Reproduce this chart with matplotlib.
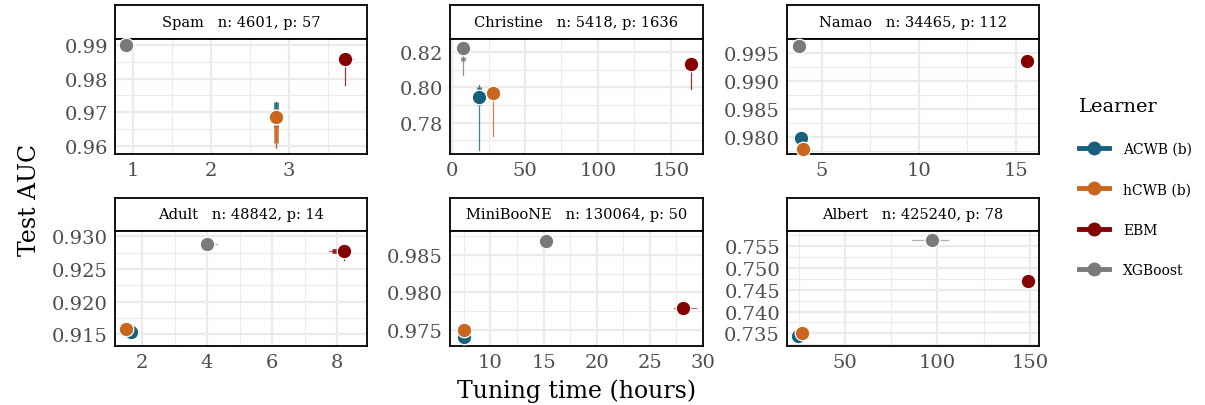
import matplotlib
matplotlib.use("Agg")
import matplotlib.pyplot as plt
from matplotlib.lines import Line2D
import numpy as np

plt.rcParams["font.family"] = ["DejaVu Serif"]

# learners and colours
learners = ["ACWB (b)", "hCWB (b)", "EBM", "XGBoost"]
colors = ["#17607D", "#C8661F", "#850000", "#7A7A7A"]

# datasets (facet order)
datasets = ["Spam", "Christine", "Namao", "Adult", "MiniBooNE", "Albert"]
dims = ["n: 4601, p: 57", "n: 5418, p: 1636", "n: 34465, p: 112",
        "n: 48842, p: 14", "n: 130064, p: 50", "n: 425240, p: 78"]

# median tuning time (hours) per learner: ACWB, hCWB, EBM, XGBoost
time_med = {
    "Spam": [2.83, 2.84, 3.72, 0.91],
    "Christine": [18.5, 28.0, 164.0, 7.5],
    "Namao": [3.9, 4.0, 15.6, 3.8],
    "Adult": [1.65, 1.5, 8.2, 4.0],
    "MiniBooNE": [7.5, 7.5, 28.1, 15.2],
    "Albert": [24.5, 26.5, 149.0, 97.0],
}
# time spread: min, q1, q3, max
time_rng = {
    "Spam": [None, None, (3.70, 3.70, 3.74, 3.82), None],
    "Christine": [None, None, None, None],
    "Namao": [None, None, None, None],
    "Adult": [None, None, (7.75, 7.85, 8.0, 8.4), (4.0, 4.0, 4.0, 4.3)],
    "MiniBooNE": [None, None, (27.3, 27.9, 28.2, 29.3), None],
    "Albert": [None, None, None, (86.0, 97.0, 97.0, 106.0)],
}

# median test AUC per learner
auc_med = {
    "Spam": [0.9685, 0.9686, 0.9860, 0.9900],
    "Christine": [0.7945, 0.7970, 0.8130, 0.8225],
    "Namao": [0.9798, 0.9779, 0.9936, 0.9963],
    "Adult": [0.9153, 0.9158, 0.9277, 0.9288],
    "MiniBooNE": [0.9740, 0.9749, 0.9779, 0.9869],
    "Albert": [0.7345, 0.7350, 0.7471, 0.7564],
}
# AUC spread: min, q1, q3, max
auc_rng = {
    "Spam": [(0.9598, 0.9655, 0.9730, 0.9732), (0.9595, 0.9610, 0.9670, 0.9690),
             (0.9782, 0.9840, 0.9860, 0.9862), None],
    "Christine": [(0.7645, 0.7900, 0.8000, 0.8012), (0.7725, 0.7950, 0.7970, 0.7975),
                  (0.7990, 0.8110, 0.8130, 0.8135), (0.8070, 0.8150, 0.8170, 0.8225)],
    "Namao": [None, None, None, None],
    "Adult": [None, (0.9147, 0.9155, 0.9158, 0.9160), (0.9264, 0.9275, 0.9278, 0.9280), None],
    "MiniBooNE": [None, None, None, None],
    "Albert": [None, None, None, None],
}

# axis setup per panel
xlims = {"Spam": (0.77, 4.0), "Christine": (-1.4, 172), "Namao": (3.2, 16.2),
         "Adult": (1.17, 8.92), "MiniBooNE": (6.2, 30.0), "Albert": (18.6, 155)}
ylims = {"Spam": (0.9576, 0.9918), "Christine": (0.7623, 0.8274), "Namao": (0.9770, 0.9975),
         "Adult": (0.9132, 0.9308), "MiniBooNE": (0.9728, 0.9882), "Albert": (0.7321, 0.7585)}
xticks = {"Spam": [1, 2, 3], "Christine": [0, 50, 100, 150], "Namao": [5, 10, 15],
          "Adult": [2, 4, 6, 8], "MiniBooNE": [10, 15, 20, 25, 30], "Albert": [50, 100, 150]}
yticks = {"Spam": [0.96, 0.97, 0.98, 0.99], "Christine": [0.78, 0.80, 0.82],
          "Namao": [0.980, 0.985, 0.990, 0.995], "Adult": [0.915, 0.920, 0.925, 0.930],
          "MiniBooNE": [0.975, 0.980, 0.985], "Albert": [0.735, 0.740, 0.745, 0.750, 0.755]}
ydigits = {"Spam": 2, "Christine": 2, "Namao": 3, "Adult": 3, "MiniBooNE": 3, "Albert": 3}

W, H = 1205, 406
fig = plt.figure(figsize=(W / 100, H / 100), dpi=100)


def box(x0, y0, x1, y1):
    return [x0 / W, 1 - y1 / H, (x1 - x0) / W, (y1 - y0) / H]


cols = [(115, 367), (450, 703), (787, 1039)]
rows = [(6, 40, 155), (199, 232, 347)]

for i, ds in enumerate(datasets):
    r, c = divmod(i, 3)
    x0, x1 = cols[c]
    s0, a0, a1 = rows[r]

    # strip
    sax = fig.add_axes(box(x0, s0, x1, a0))
    sax.set_xticks([])
    sax.set_yticks([])
    for sp in sax.spines.values():
        sp.set_linewidth(1.3)
    sax.text(0.5, 0.5, ds + "   " + dims[i], ha="center", va="center",
             fontsize=10.5, transform=sax.transAxes)

    ax = fig.add_axes(box(x0, a0, x1, a1))
    xt = xticks[ds]
    yt = yticks[ds]
    ax.set_xticks(xt)
    ax.set_yticks(yt)
    ax.set_xticklabels([str(t) for t in xt])
    ax.set_yticklabels([f"{t:.{ydigits[ds]}f}" for t in yt])
    dx = xt[1] - xt[0]
    dy = yt[1] - yt[0]
    ax.set_xticks(np.arange(xt[0] - dx / 2, xt[-1] + dx, dx), minor=True)
    ax.set_yticks(np.arange(yt[0] - dy / 2, yt[-1] + dy, dy), minor=True)
    ax.set_xlim(*xlims[ds])
    ax.set_ylim(*ylims[ds])
    ax.grid(True, which="major", color="#EBEBEB", lw=1.6, zorder=0)
    ax.grid(True, which="minor", color="#EBEBEB", lw=0.8, zorder=0)
    ax.tick_params(which="both", length=0, labelsize=14, labelcolor="#4D4D4D", pad=5)
    for sp in ax.spines.values():
        sp.set_linewidth(1.3)
    ax.set_axisbelow(True)

    for k in range(4):
        xm = time_med[ds][k]
        ym = auc_med[ds][k]
        col = colors[k]
        ar = auc_rng[ds][k]
        if ar is not None:
            ax.plot([xm, xm], [ar[0], ar[3]], color=col, lw=0.9, alpha=0.8, zorder=2)
            ax.plot([xm, xm], [ar[1], ar[2]], color=col, lw=3.5, alpha=0.8,
                    solid_capstyle="butt", zorder=2)
        tr = time_rng[ds][k]
        if tr is not None:
            ax.plot([tr[0], tr[3]], [ym, ym], color=col, lw=0.9, alpha=0.6, zorder=2)
            ax.plot([tr[1], tr[2]], [ym, ym], color=col, lw=3.5, alpha=0.8,
                    solid_capstyle="butt", zorder=2)
    for k in range(4):
        ax.scatter(time_med[ds][k], auc_med[ds][k], s=110, color=colors[k],
                   edgecolor="white", linewidth=0.9, zorder=3 + k, clip_on=False)

fig.text(30 / W, 1 - 200 / H, "Test AUC", rotation=90, ha="center", va="center", fontsize=17)
fig.text(577 / W, 1 - 391 / H, "Tuning time (hours)", ha="center", va="center", fontsize=17)

handles = [Line2D([0], [0], color=c, lw=3.5, marker="o", markersize=9) for c in colors]
leg = fig.legend(handles, learners, title="Learner", loc="upper left",
                 bbox_to_anchor=(1066 / W, 1 - 86 / H), frameon=False,
                 fontsize=10, title_fontsize=14, labelspacing=1.9,
                 handlelength=2.2, handletextpad=1.0)
leg._legend_box.align = "left"

fig.savefig("out.png", dpi=100)
